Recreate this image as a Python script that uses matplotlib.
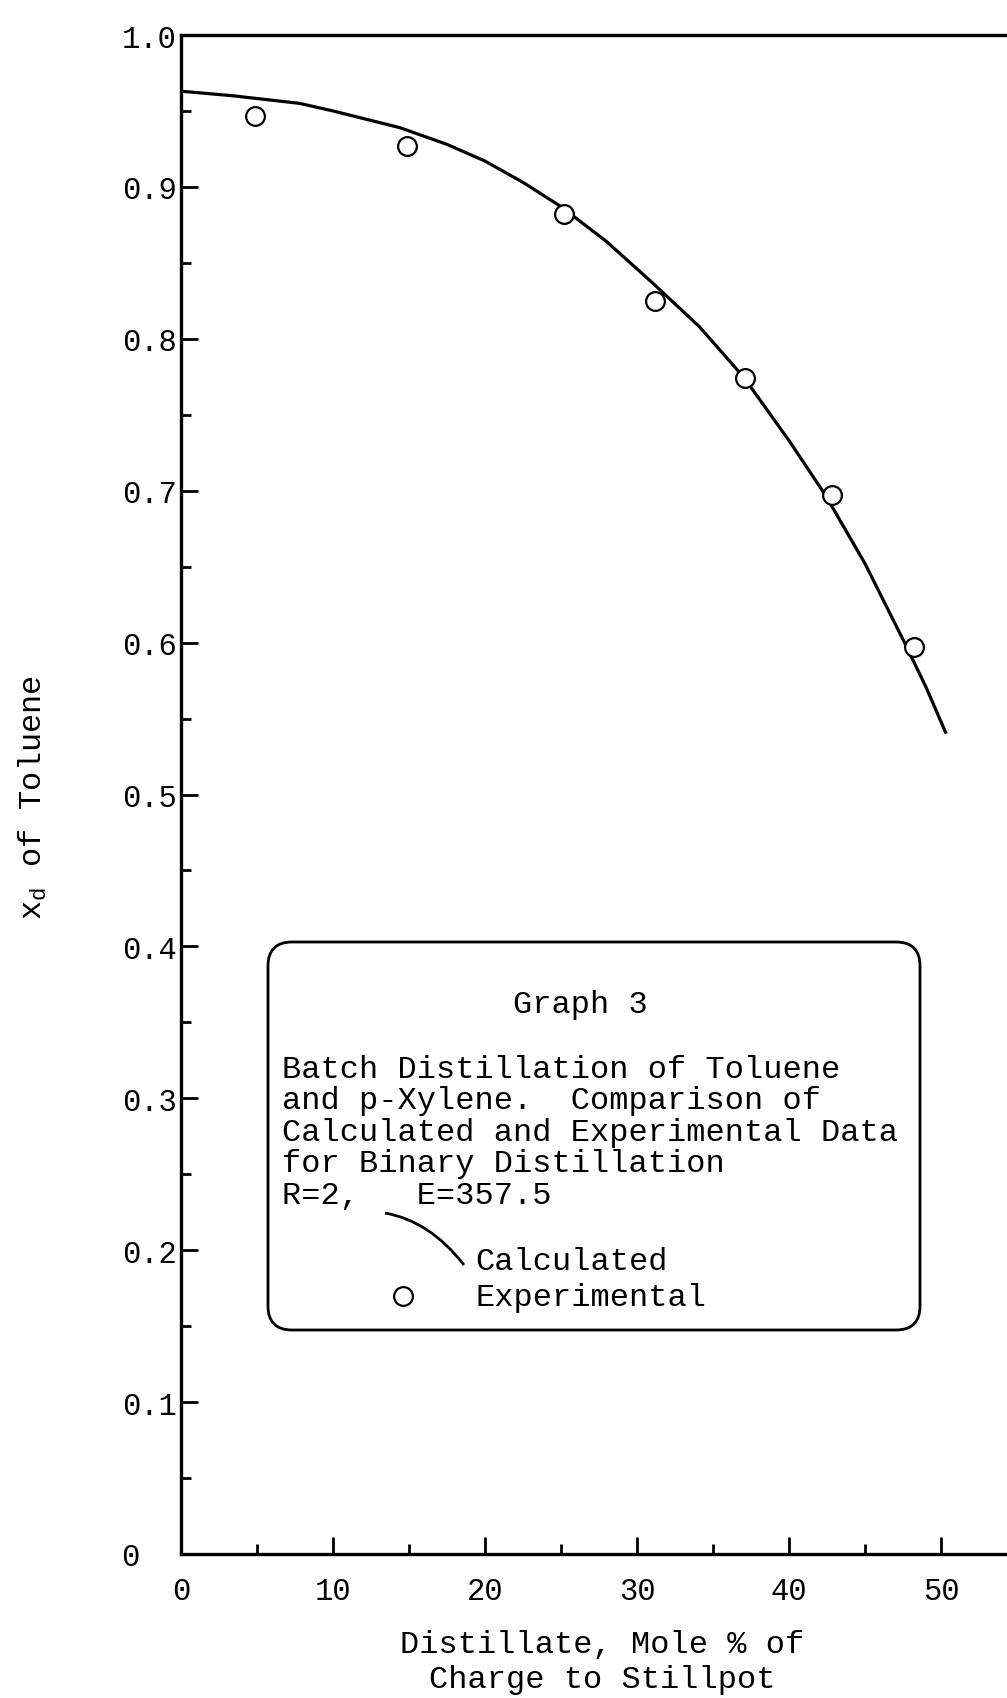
import matplotlib
matplotlib.use("Agg")
import matplotlib.pyplot as plt
from matplotlib.patches import FancyBboxPatch, PathPatch
from matplotlib.path import Path

# typewriter-ish look
plt.rcParams['font.family'] = ['Liberation Mono', 'DejaVu Sans Mono']
plt.rcParams['mathtext.fontset'] = 'custom'
plt.rcParams['mathtext.rm'] = 'Liberation Mono'

# data
calc_x = [0, 3.4, 7.8, 10, 14.4, 17.5, 20, 22.5, 25, 28, 31, 34.1, 37.0, 40, 42.4, 45, 47.6, 49, 50.3]
calc_y = [0.963, 0.960, 0.955, 0.950, 0.939, 0.928, 0.917, 0.903, 0.887, 0.864, 0.837, 0.808,
          0.775, 0.733, 0.697, 0.652, 0.600, 0.571, 0.541]
exp_x = [4.9, 14.9, 25.2, 31.2, 37.1, 42.8, 48.2]
exp_y = [0.947, 0.927, 0.882, 0.825, 0.774, 0.697, 0.597]

xticks = [0, 10, 20, 30, 40, 50]
xtick_labels = ['0', '10', '20', '30', '40', '50']
yticks = [0, 0.1, 0.2, 0.3, 0.4, 0.5, 0.6, 0.7, 0.8, 0.9, 1.0]
ytick_labels = ['0  ', '0.1', '0.2', '0.3', '0.4', '0.5', '0.6', '0.7', '0.8', '0.9', '1.0']

W, H = 1007, 1699
FS = 22     # tick labels
FT = 23     # titles and note

fig = plt.figure(figsize=(W / 100, H / 100), dpi=100)
ax = fig.add_axes([181 / W, 1 - 1555 / H, 1 - 181 / W, (1555 - 36) / H])

ax.plot(calc_x, calc_y, color='black', lw=2.3)
ax.plot(exp_x, exp_y, 'o', mfc='white', mec='black', mew=1.6, ms=13.5, zorder=3)

ax.set_xlim(0, 50 * (W - 181) / (941 - 181))
ax.set_ylim(0, 1.0)
ax.set_xticks(xticks)
ax.set_xticklabels(xtick_labels)
ax.set_xticks([5, 15, 25, 35, 45], minor=True)
ax.set_yticks(yticks)
ax.set_yticklabels(ytick_labels)
ax.set_yticks([0.05 + 0.1 * i for i in range(10)], minor=True)

ax.tick_params(which='both', direction='in', width=2.0, labelsize=FS)
ax.tick_params(which='major', length=12)
ax.tick_params(which='minor', length=7)
ax.tick_params(axis='x', pad=16)
ax.tick_params(axis='y', pad=3)
ax.spines['right'].set_visible(False)
for s in ['top', 'left', 'bottom']:
    ax.spines[s].set_linewidth(2.4)

# axis titles
fig.text(33 / W, 1 - 797 / H, 'x$_\\mathrm{d}$ of Toluene', rotation=90,
         ha='center', va='center', fontsize=FT)
fig.text(602 / W, 1 - 1645 / H, 'Distillate, Mole % of', ha='center', va='center', fontsize=FT)
fig.text(602 / W, 1 - 1680 / H, 'Charge to Stillpot', ha='center', va='center', fontsize=FT)

# overlay in pixel units for the boxed note
ov = fig.add_axes([0, 0, 1, 1], zorder=5)
ov.set_xlim(0, W)
ov.set_ylim(H, 0)
ov.axis('off')
ov.patch.set_alpha(0)

box = FancyBboxPatch((268, 943), 652, 388, boxstyle='round,pad=0,rounding_size=24',
                     fc='white', ec='black', lw=2.0)
ov.add_patch(box)

ov.text(580, 1013, 'Graph 3', ha='center', va='baseline', fontsize=FT)
note = ['Batch Distillation of Toluene',
        'and p-Xylene.  Comparison of',
        'Calculated and Experimental Data',
        'for Binary Distillation',
        'R=2,   E=357.5']
for i, line in enumerate(note):
    ov.text(282, 1078 + 31.5 * i, line, ha='left', va='baseline', fontsize=FT)

# legend samples
p = Path([(385, 1214), (430, 1222), (464, 1266)], [Path.MOVETO, Path.CURVE3, Path.CURVE3])
ov.add_patch(PathPatch(p, fc='none', ec='black', lw=2.0))
ov.plot([403], [1297], 'o', mfc='white', mec='black', mew=1.6, ms=13.5)
ov.text(475, 1270, 'Calculated', ha='left', va='baseline', fontsize=FT)
ov.text(475, 1306, 'Experimental', ha='left', va='baseline', fontsize=FT)

fig.savefig('out.png', dpi=100)
